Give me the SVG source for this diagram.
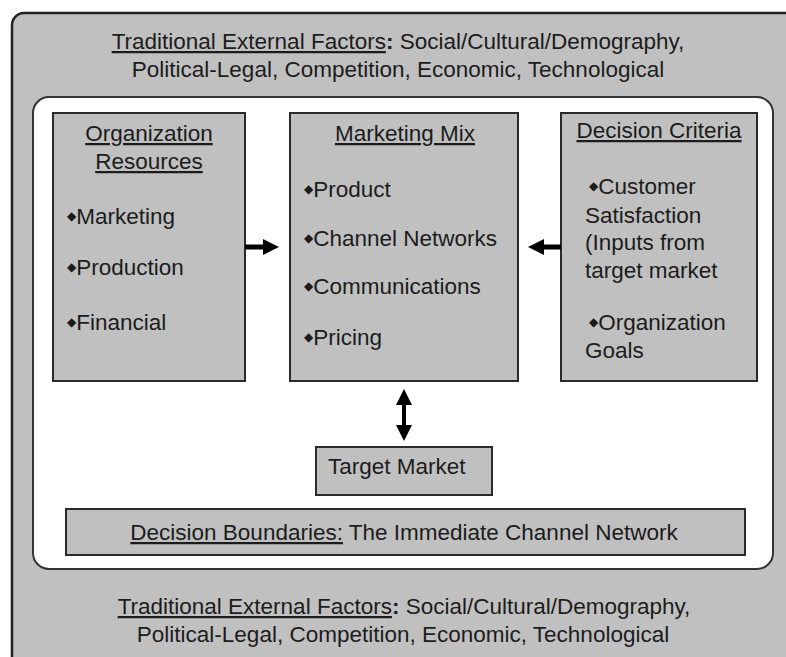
<svg xmlns="http://www.w3.org/2000/svg" width="786" height="657" viewBox="0 0 786 657">
<style>
text{font-family:"Liberation Sans",Arial,sans-serif;font-size:22.5px;fill:#1c1c1c}
.c{text-anchor:middle}
.u{text-decoration:underline}
.b{font-family:"DejaVu Sans",sans-serif;font-size:12px}
.box{fill:#c0c0c0;stroke:#2a2a2a;stroke-width:2}
.conn{stroke:#000;fill:none}
</style>
<defs>
<marker id="ah" viewBox="0 0 16 16" markerUnits="userSpaceOnUse" markerWidth="16" markerHeight="16" refX="2" refY="8" orient="auto-start-reverse">
<path d="M0,0 L16,8 L0,16 z" fill="#000"/>
</marker>
</defs>
<rect x="0" y="0" width="786" height="657" fill="#fff"/>
<g id="external">
<rect x="12" y="13" width="800" height="700" rx="12" fill="#c0c0c0" stroke="#222" stroke-width="2.5"/>
<text class="c" x="398" y="49"><tspan class="u">Traditional External Factors</tspan><tspan font-weight="bold">:</tspan> Social/Cultural/Demography,</text>
<text class="c" x="398" y="77">Political-Legal, Competition, Economic, Technological</text>
<text class="c" x="404" y="614"><tspan class="u">Traditional External Factors</tspan><tspan font-weight="bold">:</tspan> Social/Cultural/Demography,</text>
<text class="c" x="403" y="642">Political-Legal, Competition, Economic, Technological</text>
</g>
<g id="channel-boundary">
<rect x="33" y="97" width="740" height="472" rx="16" fill="#fff" stroke="#333" stroke-width="2"/>
</g>
<g id="org-resources">
<rect class="box" x="53" y="113" width="192" height="268"/>
<text class="c u" x="149" y="141">Organization</text>
<text class="c u" x="149" y="169">Resources</text>
<text x="67" y="224"><tspan class="b" dy="-4">◆</tspan><tspan dy="4">Marketing</tspan></text>
<text x="67" y="275"><tspan class="b" dy="-4">◆</tspan><tspan dy="4">Production</tspan></text>
<text x="67" y="330"><tspan class="b" dy="-4">◆</tspan><tspan dy="4">Financial</tspan></text>
</g>
<g id="marketing-mix">
<rect class="box" x="290" y="113" width="228" height="268"/>
<text class="c u" x="405" y="141">Marketing Mix</text>
<text x="304" y="197"><tspan class="b" dy="-4">◆</tspan><tspan dy="4">Product</tspan></text>
<text x="304" y="246"><tspan class="b" dy="-4">◆</tspan><tspan dy="4">Channel Networks</tspan></text>
<text x="304" y="294"><tspan class="b" dy="-4">◆</tspan><tspan dy="4">Communications</tspan></text>
<text x="304" y="345"><tspan class="b" dy="-4">◆</tspan><tspan dy="4">Pricing</tspan></text>
</g>
<g id="decision-criteria">
<rect class="box" x="561" y="113" width="196" height="268"/>
<text class="c u" x="659" y="138">Decision Criteria</text>
<text x="589" y="194"><tspan class="b" dy="-4">◆</tspan><tspan dy="4">Customer</tspan></text>
<text x="585" y="223">Satisfaction</text>
<text x="585" y="250">(Inputs from</text>
<text x="585" y="278">target market</text>
<text x="589" y="330"><tspan class="b" dy="-4">◆</tspan><tspan dy="4">Organization</tspan></text>
<text x="585" y="358">Goals</text>
</g>
<g id="target-market">
<rect class="box" x="316" y="447" width="176" height="48"/>
<text x="328" y="474">Target Market</text>
</g>
<g id="decision-boundaries">
<rect class="box" x="66" y="509" width="679" height="46"/>
<text class="c" x="404" y="540"><tspan class="u">Decision Boundaries:</tspan> The Immediate Channel Network</text>
</g>
<g id="connectors">
<line class="conn" x1="245" y1="247" x2="265" y2="247" stroke-width="5" marker-end="url(#ah)"/>
<line class="conn" x1="561" y1="247" x2="542" y2="247" stroke-width="5" marker-end="url(#ah)"/>
<line class="conn" x1="404" y1="403" x2="404" y2="427" stroke-width="4" marker-start="url(#ah)" marker-end="url(#ah)"/>
</g>
</svg>
